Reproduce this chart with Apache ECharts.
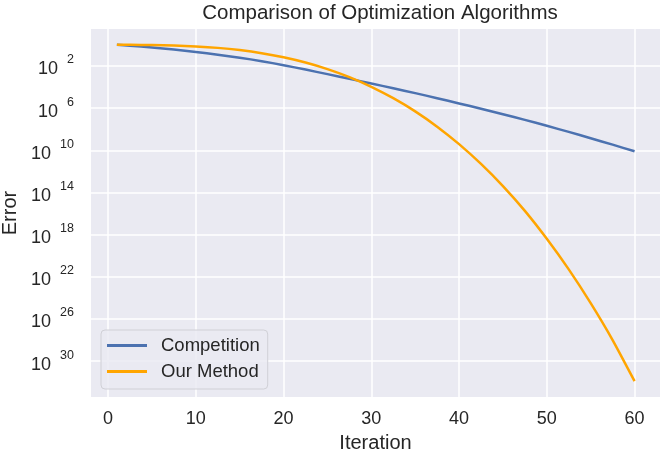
<!DOCTYPE html>
<html>
<head>
    <meta charset="utf-8">
    <title>Comparison of Optimization Algorithms</title>
    <script src="https://cdn.jsdelivr.net/npm/echarts@6/dist/echarts.min.js"></script>
    <style>
        html, body { margin: 0; padding: 0; background: #fff; }
        #chart { width: 660px; height: 456px; }
    </style>
</head>
<body>
<div id="chart"></div>
<script type="text/javascript">
    var iterations = [1, 2.5, 5, 7.5, 10, 12.5, 15, 17.5, 20, 22.5, 25, 27.5, 30,
        32.5, 35, 37.5, 40, 42.5, 45, 47.5, 50, 52.5, 55, 57.5, 60];
    // log10 of the error
    var competitionLog = [0, -0.08, -0.25, -0.45, -0.68, -0.94, -1.22, -1.55, -1.93, -2.35, -2.78, -3.22, -3.67,
        -4.12, -4.58, -5.06, -5.56, -6.06, -6.58, -7.12, -7.68, -8.26, -8.86, -9.47, -10.1];
    var ourMethodLog = [0, -0.002, -0.02, -0.06, -0.15, -0.29, -0.5, -0.79, -1.18, -1.68, -2.3, -3.06, -3.98,
        -5.06, -6.31, -7.76, -9.42, -11.3, -13.4, -15.75, -18.4, -21.3, -24.5, -28.0, -31.9];
    // tick positions (exponents) and x ticks
    var yTicks = [-2, -6, -10, -14, -18, -22, -26, -30];
    var xTicks = [0, 10, 20, 30, 40, 50, 60];

    function pairs(xs, ys) {
        return xs.map(function (x, i) { return [x, ys[i]]; });
    }

    var font = '"Liberation Sans", Arial, sans-serif';
    var myChart = echarts.init(document.getElementById('chart'));
    myChart.setOption({
        animation: false,
        title: {
            text: 'Comparison of Optimization Algorithms',
            left: 375,
            top: -2,
            textAlign: 'center',
            textStyle: { fontFamily: font, fontSize: 20.5, fontWeight: 'normal', color: '#262626' }
        },
        grid: {
            left: 91, right: 0, top: 29, bottom: 59,
            outerBoundsMode: 'none',
            backgroundColor: '#eaeaf2', show: true, borderWidth: 0
        },
        legend: {
            orient: 'vertical',
            left: 101,
            top: 330,
            padding: [6, 8, 8, 6],
            itemWidth: 40,
            itemHeight: 3,
            itemGap: 7,
            icon: 'rect',
            backgroundColor: 'rgba(234,234,242,0.85)',
            borderColor: '#d0d0d6',
            borderWidth: 1,
            borderRadius: 4,
            textStyle: { fontFamily: font, fontSize: 18.5, color: '#262626', padding: [0, 0, 0, 9] },
            data: ['Competition', 'Our Method']
        },
        xAxis: {
            type: 'value',
            min: -1.95,
            max: 62.9,
            name: 'Iteration',
            nameLocation: 'middle',
            nameGap: 36,
            nameTextStyle: { fontFamily: font, fontSize: 20, color: '#262626' },
            axisLine: { show: false },
            axisTick: { show: false, customValues: xTicks },
            axisLabel: { customValues: xTicks, fontFamily: font, fontSize: 18, color: '#262626', margin: 13 },
            splitLine: { show: true, lineStyle: { color: '#ffffff', width: 1.5 } }
        },
        yAxis: {
            type: 'value',
            min: -33.4,
            max: 1.5,
            name: 'Error',
            nameLocation: 'middle',
            nameGap: 63,
            nameTextStyle: { fontFamily: font, fontSize: 20, color: '#262626' },
            axisLine: { show: false },
            axisTick: { show: false, customValues: yTicks },
            axisLabel: {
                customValues: yTicks,
                margin: 17,
                formatter: function (v) { return '{b|10}{g|}{s|' + (-v) + '}'; },
                rich: {
                    b: { fontFamily: font, fontSize: 18, color: '#262626', lineHeight: 25, verticalAlign: 'bottom' },
                    g: { width: 9 },
                    s: { fontFamily: font, fontSize: 12.5, color: '#262626', verticalAlign: 'top' }
                }
            },
            splitLine: { show: true, lineStyle: { color: '#ffffff', width: 1.5 } }
        },
        series: [
            {
                name: 'Competition',
                type: 'line',
                smooth: 0.2,
                showSymbol: false,
                data: pairs(iterations, competitionLog),
                lineStyle: { color: '#4c72b0', width: 2.5 },
                itemStyle: { color: '#4c72b0' }
            },
            {
                name: 'Our Method',
                type: 'line',
                smooth: 0.2,
                showSymbol: false,
                data: pairs(iterations, ourMethodLog),
                lineStyle: { color: '#ffa500', width: 2.5 },
                itemStyle: { color: '#ffa500' }
            }
        ]
    });
</script>
</body>
</html>
